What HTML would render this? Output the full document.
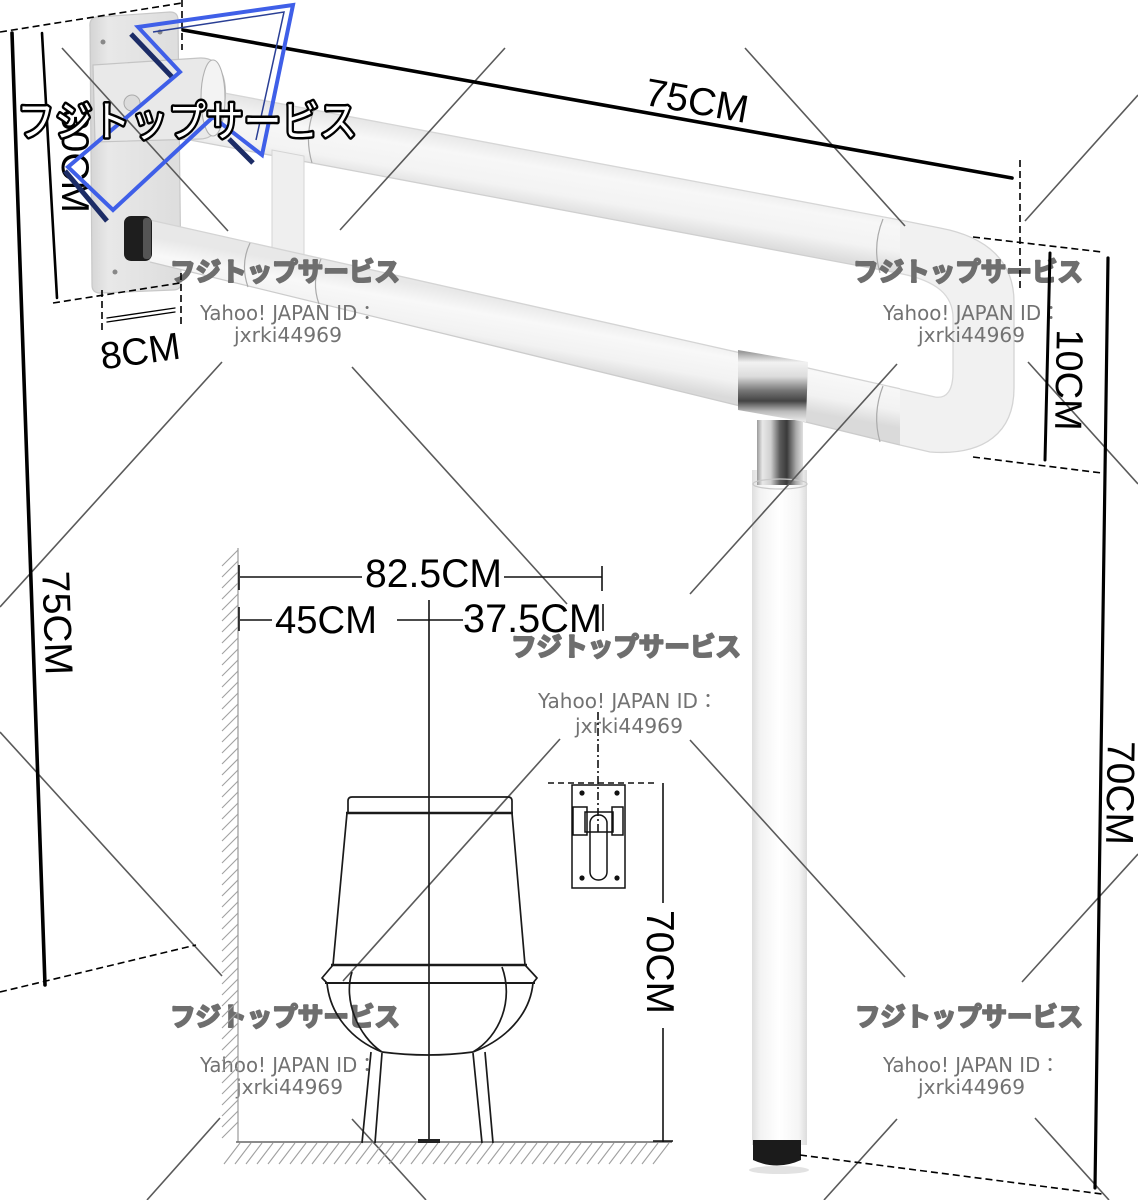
<!DOCTYPE html>
<html><head><meta charset="utf-8"><style>
html,body{margin:0;padding:0;background:#fff;}
svg{display:block;}
</style></head><body>
<svg width="1138" height="1200" viewBox="0 0 1138 1200" xmlns="http://www.w3.org/2000/svg">
<defs>
<linearGradient id="gUp" gradientUnits="userSpaceOnUse" x1="550" y1="150" x2="540" y2="210">
<stop offset="0" stop-color="#e6e6e6"/><stop offset="0.3" stop-color="#f7f7f7"/><stop offset="0.7" stop-color="#f3f3f3"/><stop offset="1" stop-color="#dcdcdc"/></linearGradient>
<linearGradient id="gLo" gradientUnits="userSpaceOnUse" x1="550" y1="308" x2="540" y2="364">
<stop offset="0" stop-color="#e8e8e8"/><stop offset="0.3" stop-color="#f8f8f8"/><stop offset="0.7" stop-color="#f2f2f2"/><stop offset="1" stop-color="#dadada"/></linearGradient>
<linearGradient id="gLeg" x1="0" y1="0" x2="1" y2="0">
<stop offset="0" stop-color="#dedede"/><stop offset="0.15" stop-color="#f3f3f3"/><stop offset="0.5" stop-color="#ffffff"/><stop offset="0.85" stop-color="#f5f5f5"/><stop offset="1" stop-color="#dcdcdc"/></linearGradient>
<linearGradient id="gSteel" x1="0" y1="0" x2="1" y2="0">
<stop offset="0" stop-color="#9a9a9a"/><stop offset="0.12" stop-color="#e8e8e8"/><stop offset="0.3" stop-color="#cfcfcf"/><stop offset="0.5" stop-color="#5a5a5a"/><stop offset="0.65" stop-color="#3a3a3a"/><stop offset="0.85" stop-color="#aaaaaa"/><stop offset="1" stop-color="#e0e0e0"/></linearGradient>
<linearGradient id="gCol" gradientUnits="userSpaceOnUse" x1="0" y1="352" x2="0" y2="422">
<stop offset="0" stop-color="#9a9a9a"/><stop offset="0.15" stop-color="#f2f2f2"/><stop offset="0.35" stop-color="#dcdcdc"/><stop offset="0.55" stop-color="#777"/><stop offset="0.7" stop-color="#444"/><stop offset="0.85" stop-color="#bbb"/><stop offset="1" stop-color="#eee"/></linearGradient>
<linearGradient id="gPlate" x1="0" y1="0" x2="1" y2="0">
<stop offset="0" stop-color="#d4d4d4"/><stop offset="0.2" stop-color="#e8e8e8"/><stop offset="1" stop-color="#dddddd"/></linearGradient>
</defs>

<!-- wall plate -->
<path d="M90,27 Q89,18 97,17 L170,12 Q178,12 178,20 L181,283 Q181,290 173,290 L100,293 Q92,293 92,285 Z" fill="url(#gPlate)" stroke="#c8c8c8" stroke-width="1.2"/>
<circle cx="103" cy="42" r="2.5" fill="#888"/><circle cx="160" cy="32" r="2.5" fill="#888"/>
<circle cx="115" cy="272" r="2.5" fill="#888"/><circle cx="168" cy="258" r="2.5" fill="#888"/>

<!-- bars -->
<polygon points="176,84 900,220 900,273.5 176,137.4" fill="url(#gUp)"/>
<line x1="176" y1="84" x2="900" y2="220" stroke="#d6d6d6" stroke-width="1.3"/>
<line x1="176" y1="137.4" x2="900" y2="273.5" stroke="#cfcfcf" stroke-width="1.3"/>
<polygon points="272,150 304,156 304,256 272,250" fill="#efefef" stroke="#d4d4d4" stroke-width="1"/>
<polygon points="150,220 900,388.75 900,445 150,262" fill="url(#gLo)"/>
<line x1="150" y1="220" x2="900" y2="388.75" stroke="#d4d4d4" stroke-width="1.3"/>
<line x1="150" y1="262" x2="900" y2="445" stroke="#cccccc" stroke-width="1.3"/>
<path d="M900,220 L940,228 C988,237 1014,262 1014,302 L1014,388 C1014,432 985,456 930,452 L900,445 L900,389 L935,397 C947,399 953,390 953,372 L953,318 C953,296 938,281 900,273.5 Z" fill="#f1f1f1"/>
<path d="M900,220 L940,228 C988,237 1014,262 1014,302 L1014,388 C1014,432 985,456 930,452 L900,445" fill="none" stroke="#d4d4d4" stroke-width="1.3"/>
<path d="M900,389 L935,397 C947,399 953,390 953,372 L953,318 C953,296 938,281 900,273.5" fill="none" stroke="#d8d8d8" stroke-width="1.3"/>
<path d="M314,110 Q304,136 312,163" fill="none" stroke="#aaa" stroke-width="1.2"/>
<path d="M250,243 Q240,264 248,287" fill="none" stroke="#aaa" stroke-width="1.2"/>
<path d="M321,259 Q311,282 319,304" fill="none" stroke="#aaa" stroke-width="1.2"/>
<path d="M883,219 Q872,246 880,273" fill="none" stroke="#aaa" stroke-width="1.2"/>
<path d="M883,386 Q872,414 880,442" fill="none" stroke="#aaa" stroke-width="1.2"/>
<rect x="124" y="216" width="28" height="45" rx="7" fill="#1e1e1e"/>
<rect x="143" y="218" width="8" height="41" rx="3" fill="#555"/>
<!-- hinge housing -->
<path d="M93,65 L200,58 C222,57 227,82 225,100 C223,125 215,139 200,139 L95,142 Z" fill="#e9e9e9" stroke="#c4c4c4" stroke-width="1.2"/>
<ellipse cx="213" cy="98" rx="12" ry="38" fill="#f3f3f3" stroke="#b0b0b0" stroke-width="1.1"/>
<circle cx="132" cy="103" r="8" fill="#dcdcdc" stroke="#aaa" stroke-width="1"/>

<!-- leg -->
<rect x="752" y="470" width="55" height="675" fill="url(#gLeg)"/>
<ellipse cx="779" cy="1170" rx="30" ry="4" fill="#e2e2e2"/>
<path d="M753,1140 L801,1140 L801,1160 Q777,1171 753,1160 Z" fill="#1b1b1b"/>
<rect x="757" y="420" width="46" height="65" fill="url(#gSteel)"/>
<ellipse cx="780" cy="484" rx="27" ry="5" fill="none" stroke="#c8c8c8" stroke-width="1.2"/>
<polygon points="738,350 808,362 806,422 738,410" fill="url(#gCol)"/>

<!-- watermark diagonal lines -->
<g stroke="#5a5a5a" stroke-width="1.6" fill="none">
<line x1="62" y1="48" x2="228" y2="231"/>
<line x1="352" y1="367" x2="567" y2="604"/>
<line x1="690" y1="740" x2="905" y2="977"/>
<line x1="1035" y1="1118" x2="1109" y2="1200"/>
<line x1="505" y1="48" x2="340" y2="230"/>
<line x1="222" y1="362" x2="0" y2="607"/>
<line x1="1138" y1="95" x2="1025" y2="221"/>
<line x1="897" y1="364" x2="690" y2="594"/>
<line x1="560" y1="739" x2="343" y2="981"/>
<line x1="220" y1="1118" x2="147" y2="1200"/>
<line x1="745" y1="48" x2="905" y2="226"/>
<line x1="1028" y1="362" x2="1138" y2="484"/>
<line x1="0" y1="732" x2="222" y2="976"/>
<line x1="352" y1="1119" x2="426" y2="1200"/>
<line x1="1138" y1="854" x2="1022" y2="982"/>
<line x1="897" y1="1119" x2="824" y2="1200"/>
</g>

<!-- watermark texts -->
<g fill="#6e6e6e" font-family="'Noto Sans CJK JP', 'Noto Sans CJK SC', sans-serif" font-weight="bold" font-size="26" stroke="#6e6e6e" stroke-width="2" stroke-linejoin="round">
<text x="170" y="281" textLength="230" lengthAdjust="spacingAndGlyphs">フジトップサービス</text>
<text x="853" y="281" textLength="230" lengthAdjust="spacingAndGlyphs">フジトップサービス</text>
<text x="511" y="656" textLength="230" lengthAdjust="spacingAndGlyphs">フジトップサービス</text>
<text x="170" y="1026" textLength="230" lengthAdjust="spacingAndGlyphs">フジトップサービス</text>
<text x="855" y="1026" textLength="228" lengthAdjust="spacingAndGlyphs">フジトップサービス</text>
</g>
<g fill="#727272" font-family="'DejaVu Sans', 'Noto Sans CJK JP', sans-serif" font-size="20">
<text x="200" y="320" textLength="177" lengthAdjust="spacingAndGlyphs">Yahoo! JAPAN ID：</text>
<text x="234" y="342" textLength="108" lengthAdjust="spacingAndGlyphs">jxrki44969</text>
<text x="883" y="320" textLength="178" lengthAdjust="spacingAndGlyphs">Yahoo! JAPAN ID：</text>
<text x="918" y="342" textLength="107" lengthAdjust="spacingAndGlyphs">jxrki44969</text>
<text x="538" y="708" textLength="180" lengthAdjust="spacingAndGlyphs">Yahoo! JAPAN ID：</text>
<text x="575" y="733" textLength="108" lengthAdjust="spacingAndGlyphs">jxrki44969</text>
<text x="200" y="1072" textLength="177" lengthAdjust="spacingAndGlyphs">Yahoo! JAPAN ID：</text>
<text x="236" y="1094" textLength="107" lengthAdjust="spacingAndGlyphs">jxrki44969</text>
<text x="883" y="1072" textLength="177" lengthAdjust="spacingAndGlyphs">Yahoo! JAPAN ID：</text>
<text x="918" y="1094" textLength="107" lengthAdjust="spacingAndGlyphs">jxrki44969</text>
</g>

<!-- toilet diagram: wall -->
<line x1="238" y1="548" x2="238" y2="1142" stroke="#9a9a9a" stroke-width="1.2"/>
<g stroke="#a0a0a0" stroke-width="1.1">
<line x1="222" y1="566" x2="238" y2="550"/><line x1="222" y1="577" x2="238" y2="561"/><line x1="222" y1="588" x2="238" y2="572"/><line x1="222" y1="599" x2="238" y2="583"/><line x1="222" y1="610" x2="238" y2="594"/><line x1="222" y1="621" x2="238" y2="605"/><line x1="222" y1="632" x2="238" y2="616"/><line x1="222" y1="643" x2="238" y2="627"/><line x1="222" y1="654" x2="238" y2="638"/><line x1="222" y1="665" x2="238" y2="649"/><line x1="222" y1="676" x2="238" y2="660"/><line x1="222" y1="687" x2="238" y2="671"/><line x1="222" y1="698" x2="238" y2="682"/><line x1="222" y1="709" x2="238" y2="693"/><line x1="222" y1="720" x2="238" y2="704"/><line x1="222" y1="731" x2="238" y2="715"/><line x1="222" y1="742" x2="238" y2="726"/><line x1="222" y1="753" x2="238" y2="737"/><line x1="222" y1="764" x2="238" y2="748"/><line x1="222" y1="775" x2="238" y2="759"/><line x1="222" y1="786" x2="238" y2="770"/><line x1="222" y1="797" x2="238" y2="781"/><line x1="222" y1="808" x2="238" y2="792"/><line x1="222" y1="819" x2="238" y2="803"/><line x1="222" y1="830" x2="238" y2="814"/><line x1="222" y1="841" x2="238" y2="825"/><line x1="222" y1="852" x2="238" y2="836"/><line x1="222" y1="863" x2="238" y2="847"/><line x1="222" y1="874" x2="238" y2="858"/><line x1="222" y1="885" x2="238" y2="869"/><line x1="222" y1="896" x2="238" y2="880"/><line x1="222" y1="907" x2="238" y2="891"/><line x1="222" y1="918" x2="238" y2="902"/><line x1="222" y1="929" x2="238" y2="913"/><line x1="222" y1="940" x2="238" y2="924"/><line x1="222" y1="951" x2="238" y2="935"/><line x1="222" y1="962" x2="238" y2="946"/><line x1="222" y1="973" x2="238" y2="957"/><line x1="222" y1="984" x2="238" y2="968"/><line x1="222" y1="995" x2="238" y2="979"/><line x1="222" y1="1006" x2="238" y2="990"/><line x1="222" y1="1017" x2="238" y2="1001"/><line x1="222" y1="1028" x2="238" y2="1012"/><line x1="222" y1="1039" x2="238" y2="1023"/><line x1="222" y1="1050" x2="238" y2="1034"/><line x1="222" y1="1061" x2="238" y2="1045"/><line x1="222" y1="1072" x2="238" y2="1056"/><line x1="222" y1="1083" x2="238" y2="1067"/><line x1="222" y1="1094" x2="238" y2="1078"/><line x1="222" y1="1105" x2="238" y2="1089"/><line x1="222" y1="1116" x2="238" y2="1100"/><line x1="222" y1="1127" x2="238" y2="1111"/><line x1="222" y1="1138" x2="238" y2="1122"/>
</g>
<line x1="236" y1="1142" x2="672" y2="1142" stroke="#666" stroke-width="1.4"/>
<g stroke="#a0a0a0" stroke-width="1.1">
<line x1="240" y1="1143" x2="224" y2="1164"/><line x1="251" y1="1143" x2="235" y2="1164"/><line x1="262" y1="1143" x2="246" y2="1164"/><line x1="273" y1="1143" x2="257" y2="1164"/><line x1="284" y1="1143" x2="268" y2="1164"/><line x1="295" y1="1143" x2="279" y2="1164"/><line x1="306" y1="1143" x2="290" y2="1164"/><line x1="317" y1="1143" x2="301" y2="1164"/><line x1="328" y1="1143" x2="312" y2="1164"/><line x1="339" y1="1143" x2="323" y2="1164"/><line x1="350" y1="1143" x2="334" y2="1164"/><line x1="361" y1="1143" x2="345" y2="1164"/><line x1="372" y1="1143" x2="356" y2="1164"/><line x1="383" y1="1143" x2="367" y2="1164"/><line x1="394" y1="1143" x2="378" y2="1164"/><line x1="405" y1="1143" x2="389" y2="1164"/><line x1="416" y1="1143" x2="400" y2="1164"/><line x1="427" y1="1143" x2="411" y2="1164"/><line x1="438" y1="1143" x2="422" y2="1164"/><line x1="449" y1="1143" x2="433" y2="1164"/><line x1="460" y1="1143" x2="444" y2="1164"/><line x1="471" y1="1143" x2="455" y2="1164"/><line x1="482" y1="1143" x2="466" y2="1164"/><line x1="493" y1="1143" x2="477" y2="1164"/><line x1="504" y1="1143" x2="488" y2="1164"/><line x1="515" y1="1143" x2="499" y2="1164"/><line x1="526" y1="1143" x2="510" y2="1164"/><line x1="537" y1="1143" x2="521" y2="1164"/><line x1="548" y1="1143" x2="532" y2="1164"/><line x1="559" y1="1143" x2="543" y2="1164"/><line x1="570" y1="1143" x2="554" y2="1164"/><line x1="581" y1="1143" x2="565" y2="1164"/><line x1="592" y1="1143" x2="576" y2="1164"/><line x1="603" y1="1143" x2="587" y2="1164"/><line x1="614" y1="1143" x2="598" y2="1164"/><line x1="625" y1="1143" x2="609" y2="1164"/><line x1="636" y1="1143" x2="620" y2="1164"/><line x1="647" y1="1143" x2="631" y2="1164"/><line x1="658" y1="1143" x2="642" y2="1164"/><line x1="669" y1="1143" x2="653" y2="1164"/>
</g>

<g stroke="#111" stroke-width="1.6" fill="none">
<line x1="239" y1="565" x2="239" y2="590"/>
<line x1="602" y1="566" x2="602" y2="591"/>
<line x1="240" y1="577" x2="362" y2="577"/>
<line x1="504" y1="577" x2="602" y2="577"/>
<line x1="239" y1="607" x2="239" y2="631"/>
<line x1="240" y1="620" x2="272" y2="620"/>
<line x1="397" y1="620" x2="463" y2="620"/>
<line x1="603" y1="604" x2="603" y2="631"/>
<line x1="429" y1="600" x2="429" y2="1142"/>
<line x1="663" y1="783" x2="663" y2="903"/>
<line x1="663" y1="1028" x2="663" y2="1142"/>
<line x1="653" y1="1141" x2="673" y2="1141"/>
</g>
<g stroke="#111" stroke-width="1.6" fill="none" stroke-dasharray="6 4">
<line x1="548" y1="783" x2="656" y2="783"/>
<line x1="598" y1="712" x2="598" y2="832" stroke-dasharray="8 3 2 3"/>
</g>
<g stroke="#111" stroke-width="1.5" fill="none">
<rect x="572" y="785" width="53" height="103"/>
<rect x="573" y="807" width="14" height="28"/>
<rect x="612" y="807" width="11" height="28"/>
<rect x="585" y="812" width="28" height="20"/>
<rect x="590" y="815" width="17" height="65" rx="8"/>
</g>
<g fill="#111">
<circle cx="582" cy="793" r="2.6"/><circle cx="617" cy="793" r="2.6"/><circle cx="582" cy="878" r="2.6"/><circle cx="617" cy="878" r="2.6"/>
</g>
<g stroke="#1a1a1a" stroke-width="1.7" fill="none" stroke-linejoin="round">
<path d="M348,813 L348,801 Q348,797 352,797 L508,797 Q512,797 512,801 L512,813"/>
<line x1="346" y1="813" x2="513" y2="813" stroke-width="2.6"/>
<path d="M347,813 L333,965 M512,813 L525,965"/>
<line x1="331" y1="965" x2="527" y2="965" stroke-width="2.6"/>
<path d="M333,965 L322,978 L327,983 M525,965 L537,978 L533,983"/>
<line x1="325" y1="983" x2="535" y2="983" stroke-width="2"/>
<path d="M327,983 C330,1015 352,1040 382,1052"/>
<path d="M533,983 C530,1015 505,1040 473,1052"/>
<path d="M382,1052 Q428,1058 473,1052"/>
<path d="M352,972 C343,1000 358,1036 382,1052"/>
<path d="M502,967 C514,1000 500,1036 473,1052"/>
<path d="M371,1052 L362,1143 M382,1053 L375,1143"/>
<path d="M485,1052 L493,1143 M473,1053 L482,1143"/>
</g>
<rect x="418" y="1139" width="22" height="4" fill="#222"/>

<g fill="#000" font-family="'Liberation Sans', Arial, sans-serif">
<text x="365" y="587" font-size="40" textLength="137" lengthAdjust="spacingAndGlyphs">82.5CM</text>
<text x="275" y="633" font-size="39" textLength="102" lengthAdjust="spacingAndGlyphs">45CM</text>
<text x="463" y="632" font-size="40" textLength="139" lengthAdjust="spacingAndGlyphs">37.5CM</text>
<text x="661" y="976" font-size="39" text-anchor="middle" transform="rotate(90 661 962)">70CM</text>
</g>

<!-- dimension lines (photo) -->
<g stroke="#000" fill="none" stroke-linecap="round">
<line x1="183" y1="30" x2="1012" y2="178" stroke-width="3.6"/>
<line x1="12" y1="33" x2="45" y2="985" stroke-width="3.6"/>
<line x1="42" y1="33" x2="57" y2="298" stroke-width="2.6"/>
<line x1="1050" y1="253" x2="1045" y2="460" stroke-width="3"/>
<line x1="1108" y1="258" x2="1095" y2="1188" stroke-width="3.2"/>
<line x1="107" y1="318" x2="175" y2="308" stroke-width="1.3"/>
<line x1="107" y1="322" x2="175" y2="312" stroke-width="1.3"/>
</g>
<g stroke="#000" fill="none" stroke-width="1.6" stroke-dasharray="7 4">
<line x1="0" y1="32" x2="182" y2="3"/>
<line x1="182" y1="0" x2="182" y2="50"/>
<line x1="53" y1="303" x2="180" y2="283"/>
<line x1="102" y1="290" x2="102" y2="333"/>
<line x1="181" y1="273" x2="181" y2="324"/>
<line x1="0" y1="992" x2="196" y2="945"/>
<line x1="973" y1="237" x2="1102" y2="252"/>
<line x1="1020" y1="160" x2="1020" y2="292"/>
<line x1="973" y1="457" x2="1102" y2="473"/>
<line x1="800" y1="1155" x2="1102" y2="1194"/>
</g>
<g fill="#000" font-family="'Liberation Sans', Arial, sans-serif">
<text x="697" y="114" font-size="39" text-anchor="middle" transform="rotate(10.2 697 100)">75CM</text>
<text x="140" y="364" font-size="38" text-anchor="middle" transform="rotate(-8 140 350)">8CM</text>
<text x="58" y="637" font-size="39" text-anchor="middle" transform="rotate(88 58 623)">75CM</text>
<text x="76" y="175" font-size="39" text-anchor="middle" transform="rotate(90 76 161)">30CM</text>
<text x="1070" y="394" font-size="38" text-anchor="middle" transform="rotate(91 1070 380)">10CM</text>
<text x="1121" y="807" font-size="39" text-anchor="middle" transform="rotate(91 1121 793)">70CM</text>
</g>

<!-- blue logo -->
<g fill="none" stroke-linejoin="miter">
<line x1="131" y1="34" x2="172" y2="77" stroke="#1c2c66" stroke-width="5"/>
<line x1="65" y1="171" x2="107" y2="221" stroke="#1c2c66" stroke-width="5"/>
<line x1="229" y1="139" x2="253" y2="163" stroke="#1c2c66" stroke-width="5"/>
<path d="M138,27 L293,5 L262,155 L213,117 L113,210 L68,167 L180,72 Z" stroke="#3f5fe8" stroke-width="4"/>
<path d="M153,32 L284,12 L256,140" stroke="#2a3f95" stroke-width="1.5"/>
</g>

<!-- big outlined text -->
<g font-family="'Noto Sans CJK JP', 'Noto Sans CJK SC', sans-serif" font-size="42">
<text x="17" y="136" textLength="340" lengthAdjust="spacingAndGlyphs" fill="#000" stroke="#000" stroke-width="5" stroke-linejoin="round">フジトップサービス</text>
<text x="17" y="136" textLength="340" lengthAdjust="spacingAndGlyphs" fill="#fff">フジトップサービス</text>
</g>
</svg>
</body></html>
